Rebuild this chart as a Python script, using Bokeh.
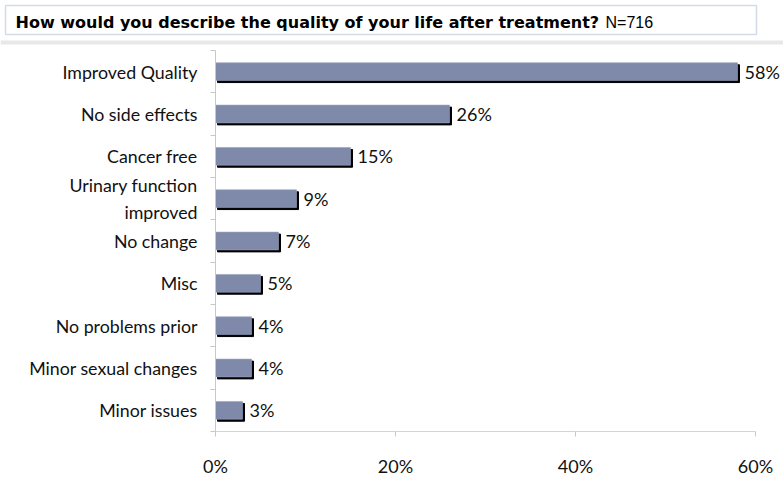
from bokeh.plotting import figure
from bokeh.layouts import column
from bokeh.models import Range1d, FixedTicker, ColumnDataSource
from bokeh.core.properties import value
from bokeh.embed import file_html
from bokeh.resources import INLINE

# ---- data ----
categories = ["Improved Quality", "No side effects", "Cancer free", "Urinary function\nimproved",
              "No change", "Misc", "No problems prior", "Minor sexual changes", "Minor issues"]
percents = [58, 26, 15, 9, 7, 5, 4, 4, 3]
x_ticks = [0, 20, 40, 60]
title_main = "How would you describe the quality of your life after treatment?"
title_n = "N=716"

n = len(categories)
ypos = [n - 1 - i for i in range(n)]
src = ColumnDataSource(dict(y=ypos, v=percents, lab=[f"{v}%" for v in percents]))

FONT = "Lato"
BAR = "#7f89aa"
W = 783

# ---- title strip ----
t = figure(width=W, height=48, output_backend="svg", toolbar_location=None,
           x_range=Range1d(0, W), y_range=Range1d(48, 0),
           min_border=0, outline_line_color=None)
t.frame_align = False
t.axis.visible = False
t.grid.visible = False
t.quad(left=[5], right=[756], top=[5], bottom=[34], fill_color="white",
       line_color="#d3dbe6", line_width=1.5)
t.quad(left=[0], right=[W], top=[40], bottom=[44], fill_color="#e8e8e8", line_color=None)
t.text(x=[15], y=[22], text=[title_main], text_font=value("DejaVu Sans"),
       text_font_style="bold", text_font_size="16px", text_baseline="middle",
       text_color="#000000")
t.text(x=[605], y=[22], text=[title_n], text_font=value("Liberation Sans"),
       text_font_size="16px", text_baseline="middle", text_color="#000000")

# ---- main chart ----
X_END = 63
p = figure(width=W, height=431, output_backend="svg", toolbar_location=None,
           x_range=Range1d(0, X_END), y_range=Range1d(-0.5, n - 0.5),
           min_border_left=215, min_border_right=1, min_border_top=2, min_border_bottom=47)
p.frame_align = False
p.outline_line_color = None
p.xgrid.visible = False
p.ygrid.visible = False

frame_w = W - 215 - 1
px_x = X_END / frame_w
px_y = n / 382.0
p.extra_x_ranges = {"sx": Range1d(-2 * px_x, X_END - 2 * px_x)}
p.extra_y_ranges = {"sy": Range1d(-0.5 + 2 * px_y, n - 0.5 + 2 * px_y)}

p.hbar(y="y", right="v", left=0, height=0.42, source=src, color="black",
       x_range_name="sx", y_range_name="sy")
p.hbar(y="y", right="v", left=0, height=0.42, source=src, fill_color=BAR,
       line_color="#9aa3c0", line_width=0.6)

p.text(x="v", y="y", text="lab", source=src, x_offset=7, text_baseline="middle",
       text_font=value(FONT), text_font_size="18px", text_color="#111111")

# x axis
xa = p.xaxis[0]
xa.bounds = (0, 60)
xa.ticker = FixedTicker(ticks=x_ticks)
xa.major_label_overrides = {tk: f"{tk}%" for tk in x_ticks}
xa.major_label_text_font = FONT
xa.major_label_text_font_size = "18px"
xa.major_label_text_color = "#111111"
xa.axis_line_color = "#d4d4d4"
xa.major_tick_line_color = "#c8c8c8"
xa.major_tick_out = 5
xa.major_tick_in = 0
xa.minor_tick_line_color = None
xa.major_label_standoff = 18

# y axis
ya = p.yaxis[0]
ya.ticker = FixedTicker(ticks=ypos, minor_ticks=[k + 0.5 for k in range(-1, n)])
ya.major_label_overrides = {y: c for y, c in zip(ypos, categories)}
ya.major_label_text_font = FONT
ya.major_label_text_font_size = "17.8px"
ya.major_label_text_color = "#111111"
ya.axis_line_color = "#c8c8c8"
ya.major_tick_line_color = None
ya.minor_tick_line_color = "#c8c8c8"
ya.minor_tick_out = 5
ya.minor_tick_in = 0
ya.major_label_standoff = 12

layout = column(t, p, spacing=0)
open("out.html", "w").write(file_html(layout, INLINE))
